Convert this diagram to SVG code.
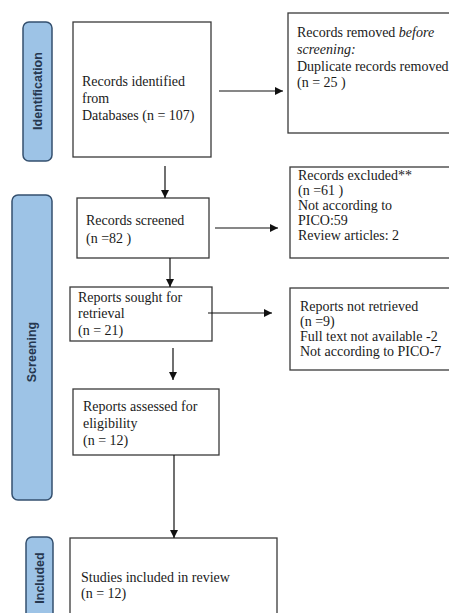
<svg xmlns="http://www.w3.org/2000/svg" width="449" height="613" viewBox="0 0 449 613">
<defs>
<marker id="ah" viewBox="0 0 10 10" refX="10" refY="5" markerWidth="8" markerHeight="8" markerUnits="userSpaceOnUse" orient="auto">
<path d="M0,0 L10,5 L0,10 z" fill="#111"/>
</marker>
<style>
.box{fill:#fff;stroke:#3a3a3a;stroke-width:1.3}
.pill{fill:#9dc3e6;stroke:#34506f;stroke-width:1.5}
.pt{font-family:"Liberation Sans",Arial,sans-serif;font-weight:bold;font-size:12.5px;fill:#26374f;text-anchor:middle}
.t{font-family:"Liberation Serif","Times New Roman",serif;font-size:14px;fill:#1a1a1a}
.it{font-style:italic}
.c{stroke:#111;stroke-width:1.2;fill:none;marker-end:url(#ah)}
</style>
</defs>
<rect width="449" height="613" fill="#fff"/>

<g id="phase-identification">
<rect class="pill" x="23" y="22" width="29" height="139" rx="6"/>
<text class="pt" transform="translate(42,91) rotate(-90)">Identification</text>
</g>
<g id="phase-screening">
<rect class="pill" x="12" y="195" width="40" height="305" rx="6"/>
<text class="pt" transform="translate(36,352) rotate(-90)">Screening</text>
</g>
<g id="phase-included">
<rect class="pill" x="26" y="537" width="27" height="90" rx="6"/>
<text class="pt" transform="translate(44,578) rotate(-90)">Included</text>
</g>

<g id="records-identified">
<rect class="box" x="73" y="22" width="138" height="135"/>
<text class="t" x="82" y="86">Records identified</text>
<text class="t" x="82" y="103">from</text>
<text class="t" x="82" y="120">Databases (n = 107)</text>
</g>
<g id="records-removed">
<rect class="box" x="288" y="13" width="170" height="120"/>
<text class="t" x="297" y="37">Records removed <tspan class="it">before</tspan></text>
<text class="t it" x="297" y="54">screening:</text>
<text class="t" x="297" y="71">Duplicate records removed</text>
<text class="t" x="297" y="87">(n = 25 )</text>
</g>
<g id="records-screened">
<rect class="box" x="77" y="198" width="132" height="60"/>
<text class="t" x="86" y="225">Records screened</text>
<text class="t" x="86" y="243">(n =82 )</text>
</g>
<g id="records-excluded">
<rect class="box" x="290" y="167" width="170" height="91"/>
<text class="t" x="298" y="180">Records excluded**</text>
<text class="t" x="298" y="195">(n =61 )</text>
<text class="t" x="298" y="210">Not according to</text>
<text class="t" x="298" y="225">PICO:59</text>
<text class="t" x="298" y="240">Review articles: 2</text>
</g>
<g id="reports-sought">
<rect class="box" x="70" y="287" width="142" height="54"/>
<text class="t" x="78" y="302">Reports sought for</text>
<text class="t" x="78" y="318">retrieval</text>
<text class="t" x="78" y="335">(n = 21)</text>
</g>
<g id="reports-not-retrieved">
<rect class="box" x="290" y="288" width="170" height="82"/>
<text class="t" x="300" y="311">Reports not retrieved</text>
<text class="t" x="300" y="326">(n =9)</text>
<text class="t" x="300" y="341">Full text not available -2</text>
<text class="t" x="300" y="356">Not according to PICO-7</text>
</g>
<g id="reports-assessed">
<rect class="box" x="73" y="389" width="146" height="66"/>
<text class="t" x="83" y="411">Reports assessed for</text>
<text class="t" x="83" y="428">eligibility</text>
<text class="t" x="83" y="445">(n = 12)</text>
</g>
<g id="studies-included">
<rect class="box" x="70" y="538" width="207" height="90"/>
<text class="t" x="81" y="582">Studies included in review</text>
<text class="t" x="81" y="598">(n = 12)</text>
</g>

<g id="connectors">
<line class="c" x1="219" y1="91" x2="283" y2="91"/>
<line class="c" x1="165" y1="166" x2="165" y2="198"/>
<line class="c" x1="215" y1="228" x2="278" y2="228"/>
<line class="c" x1="170" y1="258" x2="170" y2="287"/>
<line class="c" x1="208" y1="313" x2="272" y2="313"/>
<line class="c" x1="173" y1="348" x2="173" y2="380"/>
<line class="c" x1="174" y1="455" x2="174" y2="538"/>
</g>
</svg>
